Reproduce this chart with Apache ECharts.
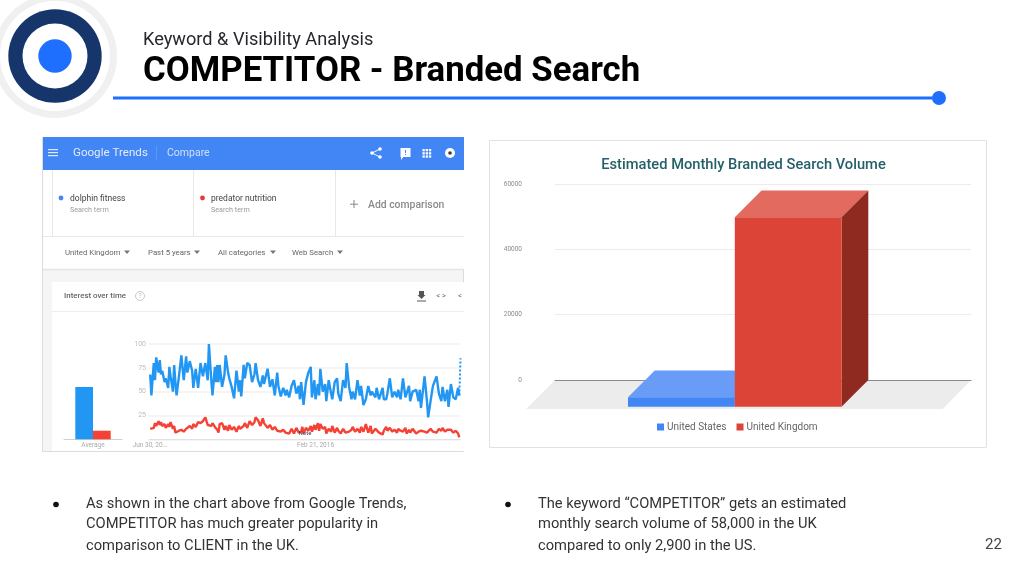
<!DOCTYPE html>
<html><head><meta charset="utf-8">
<style>html,body{margin:0;padding:0;background:#fff}#c{width:1024px;height:574px}</style>
<script src="https://cdn.jsdelivr.net/npm/echarts@6/dist/echarts.min.js"></script>
</head><body><div id="c"></div>
<script>
// ---- Google Trends panel data (weeks since start, interest 0-100)
const weeks = [1,2,4,5,6,8,9,10,11,13,14,16,17,18,20,21,22,23,25,27,29,31,32,34,36,37,39,41,43,45,47,49,50,52,53,55,
56,57,58,59,61,63,64,66,67,69,71,73,75,76,77,79,80,82,84,86,88,89,91,93,95,96,99,101,103,105,107,108,110,112,114,115,117,119,121,123,125,126,
127,128,129,131,133,135,136,138,139,141,142,143,145,147,148,150,152,153,155,157,158,160,162,164,165,167,169,170,172,174,176,177,179,181,183,185,186,189,190,192,195,196,
198,199,201,203,205,207,208,210,212,214,215,217,218,220,223,225,226,227,230,231,232,233,235,237,238,240,242,244,245,247,249,250,252,254,256,258,259];
const dolphinFitness = [68,46,80,62,86,70,83,68,72,60,64,54,76,66,50,78,60,46,66,88,62,87,70,82,72,54,74,54,80,66,80,62,100,62,46,76,
60,78,60,78,55,68,88,70,64,55,43,72,50,62,45,78,64,80,78,60,68,80,62,55,67,58,74,55,63,46,70,56,45,54,46,52,44,56,62,48,56,42,
60,48,36,60,70,76,44,62,42,58,46,74,50,58,40,62,48,42,60,64,48,40,62,54,80,55,42,50,42,62,46,56,36,42,56,46,50,44,54,42,54,42,
42,48,64,44,50,44,52,42,64,44,44,56,40,50,52,40,52,33,66,68,40,23,40,56,54,66,48,40,55,40,52,34,58,44,42,54,46];
const predatorNutrition = [11,13,12,17,14,19,15,18,14,16,12,16,13,18,11,14,7,5,9,10,8,11,10,14,11,16,13,18,17,19,23,15,17,14,17,13,
14,10,7,16,17,10,14,9,15,10,13,8,14,11,9,14,17,12,19,15,18,23,20,14,22,17,12,15,10,13,9,11,8,10,7,9,6,11,6,12,7,9,
8,13,6,12,9,14,8,15,10,17,9,16,11,13,6,11,8,14,7,12,9,6,11,7,9,8,10,13,8,11,7,13,8,16,7,14,6,11,12,7,5,9,
13,9,12,8,10,7,11,9,8,12,6,10,7,11,6,8,7,9,8,10,7,9,11,8,10,7,11,9,12,8,10,9,10,7,9,6,2];
const partialWeeks = [259,260];
const partialValues = [46,85];
const averageLabels = ['Average'];
const averageDolphin = [55];
const averagePredator = [9];
const trendTickWeeks = [1,139];
const trendTickLabels = ['Jun 30, 20...','Feb 21, 2016'];
// ---- Branded search volume panel data
const volumeCategory = ['Estimated Monthly Branded Search Volume'];
const volumeSeries = ['United States','United Kingdom'];
const volumeValues = [2900,58000];
// ---- Slide text
const slideKicker = 'Keyword & Visibility Analysis';
const slideTitle = 'COMPETITOR - Branded Search';
const leftBullet = ['As shown in the chart above from Google Trends,','COMPETITOR has much greater popularity in','comparison to CLIENT in the UK.'];
const rightBullet = ['The keyword \u201cCOMPETITOR\u201d gets an estimated','monthly search volume of 58,000 in the UK','compared to only 2,900 in the US.'];
const pageNumber = '22';

const FONT = 'Roboto';
const txt = (x,y,s,size,fill,opt={}) => ({type:'text',x,y:y+1,z:10,silent:true,style:{text:s,fontSize:size,fill,fontFamily:opt.font||FONT,fontWeight:opt.w||'normal',textAlign:opt.a||'left',textVerticalAlign:'middle'}});
const rect = (x,y,w,h,fill,z=-1,stroke) => ({type:'rect',z,silent:true,shape:{x,y,width:w,height:h},style:{fill,stroke:stroke||null,lineWidth:1}});
const circ = (x,y,r,fill,z=-1,stroke,lw) => ({type:'circle',z,silent:true,shape:{cx:x,cy:y,r},style:{fill,stroke:stroke||null,lineWidth:lw||1}});
const poly = (pts,fill,z=-1) => ({type:'polygon',z,silent:true,shape:{points:pts},style:{fill}});
const line = (x1,y1,x2,y2,stroke,lw=1,z=-1) => ({type:'line',z,silent:true,shape:{x1,y1,x2,y2},style:{stroke,lineWidth:lw}});
const tri = (x,y) => poly([[x-3,y-1.5],[x+3,y-1.5],[x,y+2]],'#777',1);

const g = [];
// logo
g.push(circ(55,56,62,'#f0f0f0',-3),circ(55,56,55,'#fff',-3),circ(55,56,46.7,'#16366b',-3),circ(55,56,32.5,'#fff',-3),circ(55,56,16.7,'#1f6fff',-3));
// heading
g.push(txt(143,39.5,slideKicker,18.2,'#26262e'));
g.push(txt(143,71,slideTitle,34.8,'#000',{w:'bold'}));
g.push(line(113,98,939,98,'#1f6fff',3),circ(939,98,7,'#1f6fff'));
// Trends frame
g.push(rect(42.5,137.5,421,314,'#f5f5f5',-5,'#dcdcdc'));
g.push(rect(43,137,421,33,'#4285f4',-4));
g.push(rect(48,149,10,1.2,'#dfe9fb',1),rect(48,152,10,1.2,'#dfe9fb',1),rect(48,155,10,1.2,'#dfe9fb',1));
g.push(txt(73,152.5,'Google Trends',11.6,'#e3ecfc'));
g.push(line(156.5,146,156.5,160,'#5f97f5',1,1));
g.push(txt(167,152.5,'Compare',10.5,'#cfe0fb'));
// header icons
g.push(circ(372,153,1.8,'#fff',1),circ(380,149,1.8,'#fff',1),circ(380,157,1.8,'#fff',1),line(372,153,380,149,'#fff',1,1),line(372,153,380,157,'#fff',1,1));
g.push(rect(400.5,148,10,9,'#fff',1),poly([[401,156],[401,160],[404,156]],'#fff',1),rect(405,150,1,3,'#4285f4',2),rect(405,154,1,1,'#4285f4',2));
for(let i=0;i<3;i++)for(let j=0;j<3;j++)g.push(rect(422.5+i*3.2,149+j*3.2,2.3,2.3,'#fff',1));
g.push(circ(450,153,5,'#fff',1),circ(450,153,1.8,'#3a3a3a',2));
// search-term row
g.push(rect(43,170,421,66,'#fff',-4));
g.push(line(52.5,170,52.5,236,'#e8e8e8'),line(193.5,170,193.5,236,'#e8e8e8'),line(335.5,170,335.5,236,'#e8e8e8'));
g.push(circ(61,198,2.4,'#4285f4',1),txt(70,197.5,'dolphin fitness',8.5,'#444'),txt(70,209.5,'Search term',7.2,'#9a9a9a'));
g.push(circ(202.5,198,2.4,'#e53935',1),txt(211,197.5,'predator nutrition',8.5,'#444'),txt(211,209.5,'Search term',7.2,'#9a9a9a'));
g.push(rect(350,203.7,8,1,'#888',1),rect(353.5,200,1,8,'#888',1),txt(368,204,'Add comparison',10.4,'#8a8a8a',{w:'500'}));
// filter row
g.push(rect(43,236,421,33,'#fff',-4),line(43,236.5,464,236.5,'#e8e8e8'),line(43,269.5,464,269.5,'#e4e4e4',1.5));
[[65,'United Kingdom',127],[148,'Past 5 years',197],[218,'All categories',273],[292,'Web Search',340]].forEach(f=>{g.push(txt(f[0],252,f[1],7.8,'#666'),tri(f[2],252));});
// interest card
g.push(rect(52,282,412,169,'#fff',-4),line(52,311.5,464,311.5,'#eeeeee'));
g.push(txt(64,295.5,'Interest over time',7.9,'#666',{w:'500'}),circ(140,296,4.5,'#fff',1,'#bbb',0.8),txt(140,295.3,'?',6.5,'#bbb',{a:'center'}));
g.push(rect(419,291,5,4,'#555',1),poly([[417.5,295],[425.5,295],[421.5,299]],'#555',1),rect(417,300.5,9,1,'#555',1));
g.push(txt(441,295,'< >',7.5,'#666',{a:'center'}),txt(458,295,'<',7.5,'#666'));
g.push(txt(305,432,'Note',6,'#444',{a:'center'}));
// volume frame
g.push(rect(489.5,140.5,497,307,'#fff',-5,'#e2e2e2'));
g.push(poly([[555,380],[971,380],[942.7,409],[526,409]],'#ececec',-1));
// bullets
g.push(circ(56,504.5,2.8,'#111',1),circ(508,504.5,2.8,'#111',1));
leftBullet.forEach((s,i)=>g.push(txt(86,[503.5,523.5,545.5][i],s,14.7,'#333')));
rightBullet.forEach((s,i)=>g.push(txt(538,[503.5,523.5,545.5][i],s,14.7,'#333')));
g.push(txt(985,544.5,pageNumber,15,'#444'));

const DEPTH = 26.7;
const box3d = colors => (params,api) => {
  const slot = params.seriesIndex === 5 ? -1 : 0;
  const base = api.coord([api.value(0),0]);
  const top = api.coord([api.value(0),api.value(1)]);
  const w = api.size([1,0])[0]*0.2567;
  const xb = base[0]-1.5+slot*w, xe = xb+w;
  const yt = top[1], yb = base[1];
  const pg = (pts,fill) => ({type:'polygon',shape:{points:pts},style:{fill}});
  return {type:'group',children:[
    pg([[xb,yt],[xe,yt],[xe-DEPTH,yt+DEPTH],[xb-DEPTH,yt+DEPTH]],colors[1]),
    pg([[xe,yt],[xe,yb],[xe-DEPTH,yb+DEPTH],[xe-DEPTH,yt+DEPTH]],colors[2]),
    pg([[xb-DEPTH,yt+DEPTH],[xe-DEPTH,yt+DEPTH],[xe-DEPTH,yb+DEPTH],[xb-DEPTH,yb+DEPTH]],colors[0])
  ]};
};
const trendY = {type:'value',min:0,max:100,interval:25,axisLine:{show:false},axisTick:{show:false},
  splitLine:{lineStyle:{color:'#f1f1f1',width:1.5}},
  axisLabel:{fontSize:7,color:'#bdbdbd',margin:3,fontFamily:FONT,formatter:v=>v===0?'':v}};
const option = {
  animation:false,backgroundColor:'#fff',
  title:{text:volumeCategory[0],left:738.5,top:153,textAlign:'center',
    textStyle:{fontSize:14.7,fontWeight:500,color:'#25606a',fontFamily:FONT}},
  legend:{data:volumeSeries,left:652,top:417,itemWidth:7,itemHeight:7,itemGap:10,icon:'rect',selectedMode:false,
    textStyle:{fontSize:10,color:'#666',fontFamily:FONT,padding:[0,0,0,-2]}},
  graphic:{elements:g},
  grid:[
    {left:64,right:1024-122,top:344,height:95.3},
    {left:149,right:1024-460.5,top:344,height:95.3},
    {left:555,right:1024-971,top:184,height:196}
  ],
  xAxis:[
    {gridIndex:0,type:'category',data:averageLabels,axisTick:{show:false},axisLine:{lineStyle:{color:'#cfcfcf'}},
      axisLabel:{fontSize:6.5,color:'#aaa',margin:3,fontFamily:FONT}},
    {gridIndex:1,type:'value',min:0,max:260,splitLine:{show:false},axisLine:{lineStyle:{color:'#e2e2e2'}},
      axisTick:{show:false},
      axisLabel:{customValues:trendTickWeeks,fontSize:6.5,color:'#aaa',margin:3,fontFamily:FONT,
        formatter:v=>trendTickLabels[trendTickWeeks.indexOf(v)]}},
    {gridIndex:2,type:'category',data:volumeCategory,axisLabel:{show:false},axisTick:{show:false},
      axisLine:{lineStyle:{color:'#8a8a8a'}}}
  ],
  yAxis:[
    {gridIndex:0,type:'value',min:0,max:100,show:false},
    Object.assign({gridIndex:1},trendY),
    {gridIndex:2,type:'value',min:0,max:60000,interval:20000,axisLine:{show:false},axisTick:{show:false},
      splitLine:{lineStyle:{color:'#ececec',width:1}},
      axisLabel:{fontSize:6.5,color:'#8a8a8a',margin:33,fontFamily:FONT,formatter:v=>String(v)}}
  ],
  series:[
    {name:'dolphin fitness avg',type:'bar',xAxisIndex:0,yAxisIndex:0,data:averageDolphin,barWidth:17.7,barGap:0,itemStyle:{color:'#2196f3'}},
    {name:'predator nutrition avg',type:'bar',xAxisIndex:0,yAxisIndex:0,data:averagePredator,barWidth:17.7,barGap:0,itemStyle:{color:'#f44336'}},
    {name:'dolphin fitness',type:'line',xAxisIndex:1,yAxisIndex:1,showSymbol:false,data:weeks.map((w,i)=>[w,dolphinFitness[i]]),
      lineStyle:{color:'#2196f3',width:2.4},itemStyle:{color:'#2196f3'}},
    {name:'dolphin fitness partial',type:'line',xAxisIndex:1,yAxisIndex:1,showSymbol:false,data:partialWeeks.map((w,i)=>[w,partialValues[i]]),
      lineStyle:{color:'#2196f3',width:2,type:[2,2]}},
    {name:'predator nutrition',type:'line',xAxisIndex:1,yAxisIndex:1,showSymbol:false,data:weeks.map((w,i)=>[w,predatorNutrition[i]]),
      lineStyle:{color:'#f44336',width:2.4},itemStyle:{color:'#f44336'}},
    {name:volumeSeries[0],type:'custom',xAxisIndex:2,yAxisIndex:2,data:[[0,volumeValues[0]]],itemStyle:{color:'#4285f4'},
      renderItem:box3d(['#4285f4','#689cf7','#2f62b8']),encode:{x:0,y:1},z:3},
    {name:volumeSeries[1],type:'custom',xAxisIndex:2,yAxisIndex:2,data:[[0,volumeValues[1]]],itemStyle:{color:'#db4437'},
      renderItem:box3d(['#db4437','#e26a5f','#8e2a20']),encode:{x:0,y:1},z:4}
  ]
};
echarts.init(document.getElementById('c'),null,{renderer:'canvas'}).setOption(option);
</script></body></html>
